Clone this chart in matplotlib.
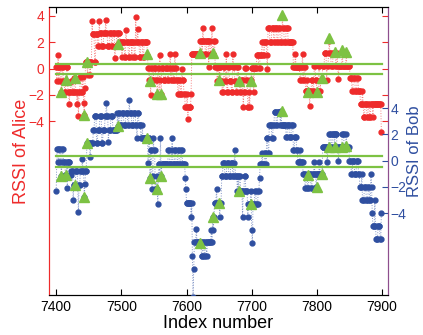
import numpy as np
import matplotlib
matplotlib.use("Agg")
import matplotlib.pyplot as plt

plt.rcParams['font.family'] = ['Liberation Sans', 'DejaVu Sans']

# ---------------- data ----------------
start_index = 7400

# RSSI of Alice, run-length pairs (level, number of consecutive samples)
alice_runs = [
 (0.1,1),(-0.9,1),(0.1,1),(1.05,1),(-0.9,1),(0.1,2),(-0.9,1),(-1.8,1),(0.1,2),(-0.9,2),
 (-1.75,2),(-0.9,1),(0.1,2),(-1.75,2),(-2.7,1),(-1.75,2),(-0.9,2),(-1.75,3),(-0.7,2),(-1.75,2),
 (-2.7,1),(-1.75,1),(-3.6,1),(-1.75,2),(-0.6,2),(-1.75,2),(-0.6,1),(-2.6,1),(-3.5,1),(-1.5,1),
 (0.5,3),(-0.45,1),(0.5,3),(-0.45,1),(0.5,2),(3.6,1),(2.6,3),(0.5,2),(2.6,3),(1.7,2),
 (3.6,1),(2.7,3),(1.7,3),(2.7,3),(3.7,1),(2.7,2),(1.7,3),(2.7,3),(1.7,2),(2.7,3),
 (0.8,1),(1.7,2),(2.7,2),(1.9,1),(2.7,2),(2.0,3),(0.9,1),(2.0,3),(0.9,2),(2.9,1),
 (2.0,3),(0.9,2),(2.0,3),(0.9,1),(2.0,3),(0.9,2),(3.9,1),(2.0,2),(3.0,1),(2.0,2),
 (0.9,2),(2.0,3),(0.9,2),(2.0,5),
 (1.05,1),(0.05,2),(-0.85,1),(-0.9,1),(-2.0,1),(0.05,2),(-0.85,2),(0.05,3),(-0.85,2),(-1.95,1),
 (0.05,2),(-2.0,1),(1.05,1),(-0.85,1),(-1.95,1),(0.05,3),(-0.85,3),(0.05,3),(-0.85,2),(0.05,2),
 (1.1,1),(-0.85,2),(0.05,2),(-0.85,2),(1.1,1),(0.05,2),(-0.85,2),(-1.9,2),(-0.85,2),(-1.9,2),
 (0.0,1),(-0.85,2),(-1.9,2),(-2.9,3),(-1.9,1),(-3.8,1),(-2.9,4),(-1.9,1),(1.1,13),(2.1,3),
 (1.1,1),(3.1,1),(2.1,3),(1.1,2),(2.1,3),(0.15,1),(2.1,2),(1.1,2),(3.1,1),(1.1,2),
 (2.1,2),(0.15,3),(-0.9,1),(0.15,2),(-0.85,1),(0.15,2),(-0.9,2),(-1.8,2),(0.15,2),(-0.9,2),
 (1.1,1),(-1.8,2),(0.15,2),(-0.9,3),(-1.8,2),(1.1,1),(0.15,2),(-0.9,2),(-1.8,2),(0.15,2),
 (-0.9,2),(-1.8,2),(-0.85,3),(-2.9,1),(-1.8,2),(0.07,2),(-0.85,2),(-2.9,2),(-1.8,1),(-2.9,1),
 (-0.85,2),(0.07,3),(-1.8,1),(0.07,4),(1.06,3),(0.07,2),(1.06,3),(2.0,2),(1.06,2),(2.0,3),
 (1.06,1),(0.0,1),(3.1,3),(2.0,3),(3.1,3),(2.0,2),(3.1,3),(2.0,2),(3.1,3),(2.0,3),
 (3.9,1),(3.1,2),(2.0,3),(3.1,3),(2.0,8),(0.15,3),(1.1,1),(0.15,6),(-0.85,2),(0.15,2),
 (1.1,1),(-0.85,2),(0.15,2),(-1.7,2),(-0.85,1),(-1.75,1),(-1.7,2),(-2.8,1),(-1.7,2),(-0.85,2),
 (-1.7,2),(0.2,2),(-0.85,2),(-1.75,1),(-1.7,2),(0.2,2),(-1.7,1),(-0.85,2),(-0.75,1),(0.2,3),
 (1.2,3),(-0.85,1),(0.2,2),(1.2,1),(2.1,1),(1.2,2),(0.2,3),(1.2,4),(0.2,2),(1.2,1),
 (0.2,1),(-0.75,1),(0.2,5),(1.3,1),(0.2,5),(1.2,1),(0.2,5),
 (-0.7,3),(-1.7,2),(-0.7,3),(-1.7,3),(-0.7,2),(-1.7,3),(-2.7,3),(-1.7,1),(-2.7,1),(-3.7,2),
 (-2.7,3),(-3.7,2),(-2.7,2),(-3.7,2),(-2.7,3),(-3.7,1),(-2.7,12),(-4.8,1)]

# RSSI of Bob, run-length pairs (level, number of consecutive samples)
bob_runs = [
 (-2.3,1),(0.9,2),(-0.1,2),(0.9,2),(-0.1,1),(-1.15,1),(0.9,2),(-0.1,3),(-1.1,2),(-0.1,1),
 (-2.1,1),(-0.1,3),(-1.1,2),(-0.8,3),(-3.0,1),(-1.9,3),(-0.8,3),(-1.9,1),(-3.9,1),(-1.9,2),
 (-0.8,3),(0.15,1),(-0.8,2),(-2.8,1),(-1.8,1),(-0.8,2),(1.3,5),(0.3,1),(1.3,4),(2.35,2),
 (3.4,3),(1.3,2),(2.35,3),(3.4,3),(1.3,2),(2.35,3),(3.4,2),(4.4,1),(3.4,2),(1.45,1),
 (2.35,3),(3.4,3),(2.35,7),(3.6,1),(2.6,1),(3.6,2),(2.7,3),(3.6,3),(2.7,3),(3.6,3),
 (2.7,2),(4.65,1),(3.6,3),(2.7,3),(3.6,3),(2.7,2),(1.7,1),(3.6,2),(2.7,3),(1.7,2),
 (2.7,1),(1.7,7),(1.75,1),(-0.2,1),(1.7,2),(-1.3,1),(0.77,2),(-2.2,1),(-1.2,1),(1.7,1),
 (0.77,2),(-2.2,2),(-1.2,1),(-2.2,1),(-3.3,1),(-0.25,2),(-1.2,1),(1.7,1),(-1.2,1),(-0.25,10),
 (0.77,2),(-0.25,3),(0.77,1),(1.75,1),(-0.25,3),(0.77,2),(-0.25,3),(0.77,2),(-0.25,3),(0.77,2),
 (-0.25,4),(-1.3,1),(-2.2,1),(-3.2,7),(-4.3,1),(-3.2,1),(-7.3,1),(-10.4,1),(-8.3,1),(-6.2,3),
 (-5.2,1),(-6.2,7),(-7.3,2),(-6.2,2),(-7.3,2),(-6.2,2),(-7.3,1),(-6.2,6),(-5.3,1),(-6.2,1),
 (-4.3,1),(-5.3,1),(-4.3,1),(-3.2,3),(-2.2,1),(-3.2,4),(-4.3,1),(-3.2,2),(-1.2,2),(-0.2,3),
 (-1.2,3),(-0.2,3),(-1.2,3),(-0.2,3),(-1.2,2),(-0.2,1),(0.77,1),(-1.2,3),(-2.3,1),(-1.2,1),
 (-2.3,1),(-1.2,2),(-2.3,3),(-4.3,1),(-2.3,2),(-1.2,2),(-2.3,3),(-4.3,1),(-3.3,4),(-2.3,1),
 (-5.3,1),(-6.3,1),(-3.3,3),(-2.3,2),(-3.3,3),(-2.3,2),(-1.35,1),(-0.25,3),(0.6,1),(-0.25,3),
 (0.6,2),(-0.25,1),(1.7,2),(0.6,2),(2.7,4),(1.7,2),(2.7,2),(3.7,3),(2.7,2),(3.7,4),
 (2.7,1),(3.75,1),(2.7,7),(1.8,2),(2.7,3),(1.8,3),(2.7,3),(0.8,2),(1.8,3),(0.8,2),
 (-0.15,3),(0.8,1),(-0.15,4),(-1.05,3),(-2.1,2),(-1.05,1),(-1.1,1),(-2.1,2),(-1.05,3),(-2.1,2),
 (-1.05,3),(-0.1,1),(-1.05,2),(-2.05,1),(-1.05,4),(-0.1,1),(-1.05,2),(-1.0,1),(-1.05,1),(1.0,7),
 (-0.1,1),(1.0,2),(2.0,3),(1.0,2),(2.0,3),(1.0,1),(2.0,3),(1.0,2),(0.0,1),(1.0,5),
 (2.0,3),(1.0,2),(1.07,1),(2.0,1),(1.0,4),(0.0,3),(-1.0,2),(0.0,3),(-1.0,3),(0.0,3),
 (-1.0,2),(-2.0,3),(-1.0,1),(-3.0,3),(-2.0,3),(-3.0,3),(-2.0,2),(-3.0,2),(-1.0,1),(-2.0,1),
 (-4.0,1),(-5.0,3),(-3.0,1),(-5.0,1),(-6.0,3),(-5.0,3),(-6.0,2),(-4.0,1)]

# green triangle markers
tri_x = [7408, 7415, 7429, 7443, 7447, 7495, 7540, 7544, 7555, 7561, 7620, 7641,
         7650, 7681, 7699, 7746, 7786, 7800, 7808, 7819, 7828, 7839, 7845]
tri_alice = [-1.8, -0.85, -0.7, -3.5, 0.5, 1.9, 1.1, -0.9, -1.9, -1.9, 1.2, 1.2,
             -0.85, -0.9, -0.9, 4.1, -1.75, -1.75, -0.7, 2.3, 1.3, 1.4, 1.3]
tri_bob = [-1.15, -1.07, -1.9, -2.8, 1.3, 2.6, 1.75, -1.3, -2.2, -1.2, -6.3, -4.3,
           -3.2, -2.3, -3.3, 3.75, -1.1, -2.05, -1.0, 1.0, 1.0, 1.0, 1.07]

# thresholds (green lines)
alice_thr = [0.38, -0.38]
bob_thr = [0.37, -0.5]
thr_span = [7400, 7900]

x_ticks = [7400, 7500, 7600, 7700, 7800, 7900]
y_ticks = [-4, -2, 0, 2, 4]


def expand(runs):
    return np.concatenate([np.full(c, v, dtype=float) for v, c in runs])


alice = expand(alice_runs)
bob = expand(bob_runs)
xa = start_index + np.arange(len(alice))
xb = start_index + np.arange(len(bob))

RED = '#EE2B2B'
BLUE = '#2F4FA0'
GREEN = '#7DC243'
PURPLE = '#8E4E8E'

fig = plt.figure(figsize=(4.23, 3.35), dpi=100)
ax = fig.add_axes([0.116, 0.119, 0.801, 0.860])
ax2 = ax.twinx()

ax.plot(xa, alice, linestyle=':', color=RED, lw=0.7, alpha=0.6, zorder=2)
ax.plot(xa, alice, linestyle='none', marker='o', ms=3.5, color=RED, mec=RED, zorder=3)
for t in alice_thr:
    ax.plot(thr_span, [t, t], color=GREEN, lw=1.6, zorder=4)
ax.plot(tri_x, tri_alice, linestyle='none', marker='^', ms=6.5, color=GREEN, mec=GREEN, zorder=5)

ax2.plot(xb, bob, linestyle=':', color=BLUE, lw=0.7, alpha=0.6, zorder=2)
ax2.plot(xb, bob, linestyle='none', marker='o', ms=3.5, color=BLUE, mec=BLUE, zorder=3)
for t in bob_thr:
    ax2.plot(thr_span, [t, t], color=GREEN, lw=1.6, zorder=4)
ax2.plot(tri_x, tri_bob, linestyle='none', marker='^', ms=6.5, color=GREEN, mec=GREEN, zorder=5)

ax.set_xlim(7389, 7909)
ax.set_ylim(-17.2, 4.68)
ax2.set_ylim(-10.26, 11.7)

ax.set_xticks(x_ticks)
ax.set_yticks(y_ticks)
ax2.set_yticks(y_ticks)

ax.tick_params(axis='x', direction='in', top=True, length=4, labelsize=10, colors='black')
ax.tick_params(axis='y', direction='in', left=True, right=True, length=4, labelsize=10,
               colors=RED)
ax2.tick_params(axis='y', direction='in', right=True, length=4, labelsize=10, colors=BLUE,
                pad=2)

ax.spines['left'].set_color(RED)
ax2.spines['left'].set_color(RED)
ax.spines['right'].set_color(PURPLE)
ax2.spines['right'].set_color(PURPLE)
for a in (ax, ax2):
    a.spines['top'].set_color('black')
    a.spines['bottom'].set_color('black')

ax.set_xlabel('Index number', fontsize=13, labelpad=1)
ax.set_ylabel('RSSI of Alice', fontsize=13, color=RED, labelpad=-1)
ax2.set_ylabel('RSSI of Bob', fontsize=12, color=BLUE, labelpad=0)

fig.savefig('out.png', dpi=100)
